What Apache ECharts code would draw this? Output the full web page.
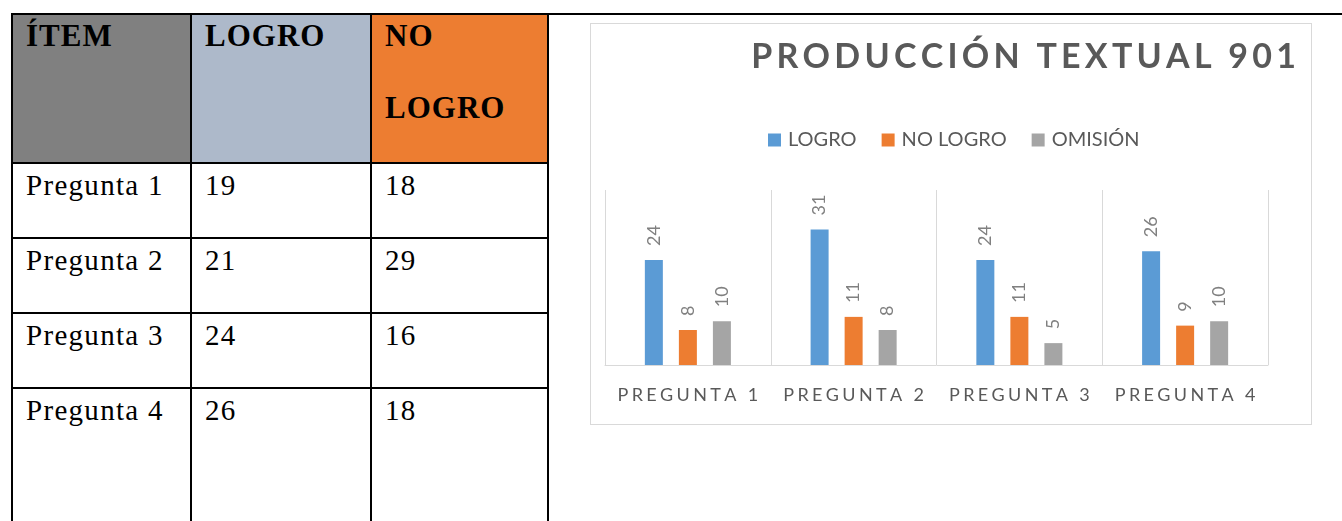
<!DOCTYPE html>
<html>
<head>
<meta charset="utf-8">
<script src="https://cdn.jsdelivr.net/npm/echarts@6/dist/echarts.min.js"></script>
<style>
  body{margin:0;background:#fff;width:1342px;height:521px;overflow:hidden;position:relative;font-family:'Liberation Serif','Times New Roman',serif;}
  .linea-top{position:absolute;left:547px;top:13px;width:795px;height:2px;background:#000;}
  .tabla{position:absolute;left:11px;top:13px;border-collapse:collapse;table-layout:fixed;}
  .tabla td{border:2px solid #000;vertical-align:top;padding:0 0 0 13px;color:#000;box-sizing:border-box;}
  .tabla .head td{height:149px;font-weight:bold;font-size:31px;letter-spacing:1px;}
  .tabla .head div{line-height:72px;margin-top:-15px;}
  .tabla .fila td{height:75px;font-size:29px;line-height:34px;padding-top:4px;letter-spacing:1.3px;}
  .tabla .fila.ult td{height:160px;}
  #grafico{position:absolute;left:590px;top:23px;width:722px;height:402px;border:1px solid #d9d9d9;box-sizing:border-box;}
</style>
</head>
<body>
<div class="linea-top"></div>
<table class="tabla">
  <colgroup><col style="width:179px"><col style="width:180px"><col style="width:177px"></colgroup>
  <tbody id="cuerpo">
    <tr class="head">
      <td style="background:#808080"><div>ÍTEM</div></td>
      <td style="background:#adb9ca"><div>LOGRO</div></td>
      <td style="background:#ed7d31"><div>NO<br>LOGRO</div></td>
    </tr>
  </tbody>
</table>
<div id="grafico"></div>
<script>
  // tabla de la izquierda
  var items = ['Pregunta 1', 'Pregunta 2', 'Pregunta 3', 'Pregunta 4']
  var tablaLogro = [19, 21, 24, 26]
  var tablaNoLogro = [18, 29, 16, 18]

  // grafico
  var preguntas = ['PREGUNTA 1', 'PREGUNTA 2', 'PREGUNTA 3', 'PREGUNTA 4']
  var logro = [24, 31, 24, 26]
  var noLogro = [8, 11, 11, 9]
  var omision = [10, 8, 5, 10]

  var cuerpo = document.getElementById('cuerpo')
  items.forEach(function (it, i) {
    var tr = document.createElement('tr')
    tr.className = 'fila' + (i === items.length - 1 ? ' ult' : '')
    ;[it, tablaLogro[i], tablaNoLogro[i]].forEach(function (v) {
      var td = document.createElement('td')
      td.textContent = v
      tr.appendChild(td)
    })
    cuerpo.appendChild(tr)
  })

  // espaciado entre letras (canvas no tiene letter-spacing)
  function espaciar (s) {
    return s.split('').join('\u2009')
  }

  var font = 'Lato, "Open Sans", sans-serif'
  var etiqueta = {
    show: true,
    position: 'top',
    rotate: 90,
    align: 'left',
    verticalAlign: 'middle',
    distance: 14,
    color: '#808080',
    fontSize: 18,
    fontFamily: font
  }

  var myChart = echarts.init(document.getElementById('grafico'))
  myChart.setOption({
    animation: false,
    title: {
      text: espaciar('PRODUCCIÓN TEXTUAL 901'),
      right: 10,
      top: 11,
      textStyle: {
        color: '#595959',
        fontSize: 34,
        fontWeight: 'bold',
        fontFamily: font
      }
    },
    legend: {
      data: ['LOGRO', 'NO LOGRO', 'OMISIÓN'],
      left: 172,
      top: 101,
      icon: 'rect',
      itemWidth: 13,
      itemHeight: 13,
      itemGap: 25,
      textStyle: {
        color: '#595959',
        fontSize: 20,
        fontFamily: font,
        padding: [0, 0, 0, 2]
      }
    },
    grid: {
      left: 14,
      right: 43,
      top: 166,
      bottom: 59
    },
    xAxis: {
      type: 'category',
      data: preguntas,
      axisLine: {lineStyle: {color: '#d9d9d9', width: 1}},
      axisTick: {show: false},
      splitLine: {show: true, interval: 0, lineStyle: {color: '#d9d9d9', width: 1}},
      axisLabel: {
        interval: 0,
        color: '#595959',
        fontSize: 18,
        fontFamily: font,
        margin: 21,
        formatter: function (v) {
          return v.split('').join('\u2009\u200A')
        }
      }
    },
    yAxis: {
      type: 'value',
      min: 0,
      max: 40,
      show: false,
      splitLine: {show: false}
    },
    series: [
      {
        name: 'LOGRO',
        type: 'bar',
        barWidth: 18,
        barGap: '89%',
        itemStyle: {color: '#5b9bd5'},
        label: etiqueta,
        data: logro
      },
      {
        name: 'NO LOGRO',
        type: 'bar',
        barWidth: 18,
        barGap: '89%',
        itemStyle: {color: '#ed7d31'},
        label: etiqueta,
        data: noLogro
      },
      {
        name: 'OMISIÓN',
        type: 'bar',
        barWidth: 18,
        barGap: '89%',
        itemStyle: {color: '#a5a5a5'},
        label: etiqueta,
        data: omision
      }
    ]
  })
</script>
</body>
</html>
